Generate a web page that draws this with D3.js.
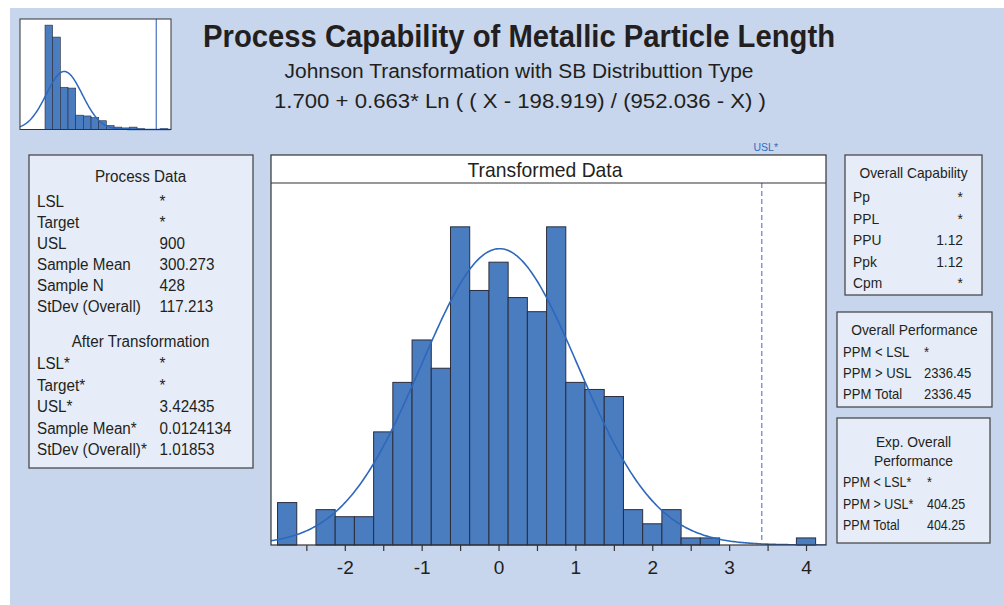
<!DOCTYPE html>
<html>
<head>
<meta charset="utf-8">
<script src="https://cdn.jsdelivr.net/npm/d3@7"></script>
<style>
  html, body { margin: 0; padding: 0; background: #ffffff; }
  svg { display: block; }
  text { font-family: "Liberation Sans", Arial, sans-serif; fill: #231f20; }
</style>
</head>
<body>
<svg id="chart" width="1004" height="605"></svg>
<script>
// ---------- data ----------
const binMids = [-2.75, -2.5, -2.25, -2.0, -1.75, -1.5, -1.25, -1.0, -0.75, -0.5, -0.25, 0.0, 0.25, 0.5, 0.75, 1.0, 1.25, 1.5, 1.75, 2.0, 2.25, 2.5, 2.75, 3.0, 3.25, 3.5, 3.75, 4.0];
const binCounts = [6, 0, 5, 4, 4, 16, 23, 29, 25, 45, 36, 40, 35, 33, 45, 23, 22, 21, 5, 3, 5, 1, 1, 0, 0, 0, 0, 1];
const binWidth = 0.25;
const xTickValues = [-2, -1, 0, 1, 2, 3, 4];
const xMinorTicks = [-2.5, -1.5, -0.5, 0.5, 1.5, 2.5, 3.5];
const usl = 3.42435;
const fitMean = 0.0124134;
const fitSd = 1.01853;
const sampleN = 428;

const origMids = [200, 250, 300, 350, 400, 450, 500, 550, 600, 650, 700, 750, 800, 850, 900, 950];
const origCounts = [131, 116, 53, 52, 18, 17, 15, 11, 5, 3, 2, 3, 1, 0, 0, 1];
const origBinWidth = 50;
const origUsl = 900;
const origMean = 300.273;
const origSd = 117.213;

const titleText = "Process Capability of Metallic Particle Length";
const subtitleText = "Johnson Transformation with SB Distributtion Type";
const formulaText = "1.700 + 0.663* Ln ( ( X - 198.919) / (952.036 - X) )";

const processLabels = ["LSL", "Target", "USL", "Sample Mean", "Sample N", "StDev (Overall)"];
const processValues = ["*", "*", "900", "300.273", "428", "117.213"];
const afterLabels = ["LSL*", "Target*", "USL*", "Sample Mean*", "StDev (Overall)*"];
const afterValues = ["*", "*", "3.42435", "0.0124134", "1.01853"];
const capLabels = ["Pp", "PPL", "PPU", "Ppk", "Cpm"];
const capValues = ["*", "*", "1.12", "1.12", "*"];
const perfLabels = ["PPM < LSL", "PPM > USL", "PPM Total"];
const perfValues = ["*", "2336.45", "2336.45"];
const expLabels = ["PPM < LSL*", "PPM > USL*", "PPM Total"];
const expValues = ["*", "404.25", "404.25"];

// ---------- drawing ----------
const svg = d3.select("#chart");
const barFill = "#4a7cc0";
const barStroke = "#2b2d3c";
const curveColor = "#2d68bd";
const panelFill = "#e6edf8";
const panelStroke = "#4a4a4a";

// compress a text horizontally to mimic the narrow original face
function squeeze(sel, f) {
  sel.each(function () {
    const len = this.getComputedTextLength();
    if (len > 0) d3.select(this).attr("textLength", len * f).attr("lengthAdjust", "spacingAndGlyphs");
  });
  return sel;
}

// background
svg.append("rect").attr("x", 10).attr("y", 8).attr("width", 994).attr("height", 597).attr("fill", "#c7d6ec");

// titles
svg.append("text").attr("x", 519).attr("y", 47).attr("text-anchor", "middle")
  .attr("font-size", 31).attr("font-weight", "bold")
  .attr("textLength", 632).attr("lengthAdjust", "spacingAndGlyphs").text(titleText);
svg.append("text").attr("x", 519).attr("y", 78).attr("text-anchor", "middle")
  .attr("font-size", 20).attr("textLength", 469).attr("lengthAdjust", "spacingAndGlyphs").text(subtitleText);
svg.append("text").attr("x", 520).attr("y", 108).attr("text-anchor", "middle")
  .attr("font-size", 21).attr("textLength", 492).attr("lengthAdjust", "spacingAndGlyphs").text(formulaText);

function normalPdf(x, m, s) {
  return Math.exp(-0.5 * ((x - m) / s) ** 2) / (s * Math.sqrt(2 * Math.PI));
}

// ---------- thumbnail ----------
{
  const L = 20, R = 171, T = 19, B = 129.5;
  const tx = d3.scaleLinear().domain([12, 996]).range([L, R]);
  const ty = d3.scaleLinear().domain([0, 138.7]).range([B, T]);
  const g = svg.append("g");
  g.append("rect").attr("x", L).attr("y", T).attr("width", R - L).attr("height", B - T).attr("fill", "#ffffff");
  const data = origMids.map((m, i) => ({ m, c: origCounts[i] })).filter(d => d.c > 0);
  g.selectAll("rect.tb").data(data).join("rect").attr("class", "tb")
    .attr("x", d => tx(d.m - origBinWidth / 2))
    .attr("width", d => tx(d.m + origBinWidth / 2) - tx(d.m - origBinWidth / 2))
    .attr("y", d => ty(d.c)).attr("height", d => ty(0) - ty(d.c))
    .attr("fill", barFill).attr("stroke", barStroke).attr("stroke-width", 0.6);
  const xs = d3.range(12, 996, 4);
  g.append("path").datum(xs)
    .attr("d", d3.line().x(v => tx(v)).y(v => ty(sampleN * origBinWidth * normalPdf(v, origMean, origSd))))
    .attr("fill", "none").attr("stroke", curveColor).attr("stroke-width", 1.5);
  g.append("line").attr("x1", tx(origUsl)).attr("x2", tx(origUsl)).attr("y1", T).attr("y2", B)
    .attr("stroke", "#4a72c4").attr("stroke-width", 1.2);
  g.append("rect").attr("x", L).attr("y", T).attr("width", R - L).attr("height", B - T)
    .attr("fill", "none").attr("stroke", "#333").attr("stroke-width", 1);
}

// ---------- main histogram ----------
{
  const L = 271, R = 826, T = 155, H = 183, B = 545;
  const x = d3.scaleLinear().domain([-2.96, 4.26]).range([L, R]);
  const y = d3.scaleLinear().domain([0, 51.2]).range([B, H]);
  const g = svg.append("g");
  g.append("rect").attr("x", L).attr("y", T).attr("width", R - L).attr("height", B - T).attr("fill", "#ffffff");

  const data = binMids.map((m, i) => ({ m, c: binCounts[i] })).filter(d => d.c > 0);
  g.selectAll("rect.bar").data(data).join("rect").attr("class", "bar")
    .attr("x", d => x(d.m - binWidth / 2))
    .attr("width", d => x(d.m + binWidth / 2) - x(d.m - binWidth / 2))
    .attr("y", d => y(d.c)).attr("height", d => y(0) - y(d.c))
    .attr("fill", barFill).attr("stroke", barStroke).attr("stroke-width", 1);

  const clipId = "plotclip";
  svg.append("defs").append("clipPath").attr("id", clipId)
    .append("rect").attr("x", L).attr("y", H).attr("width", R - L).attr("height", B - H);
  const xs = d3.range(-2.96, 4.27, 0.02);
  g.append("path").datum(xs).attr("clip-path", `url(#${clipId})`)
    .attr("d", d3.line().x(v => x(v)).y(v => y(sampleN * binWidth * normalPdf(v, fitMean, fitSd))))
    .attr("fill", "none").attr("stroke", curveColor).attr("stroke-width", 1.6);

  g.append("line").attr("x1", x(usl)).attr("x2", x(usl)).attr("y1", H).attr("y2", B)
    .attr("stroke", "#6b8bd0").attr("stroke-width", 1.3).attr("stroke-dasharray", "5,3");
  svg.append("text").attr("x", x(usl) + 4).attr("y", 151).attr("text-anchor", "middle")
    .attr("font-size", 10.5).style("fill", "#2c6fc0").text("USL*");

  // frame and header band
  g.append("rect").attr("x", L).attr("y", T).attr("width", R - L).attr("height", B - T)
    .attr("fill", "none").attr("stroke", "#333").attr("stroke-width", 1.2);
  g.append("line").attr("x1", L).attr("x2", R).attr("y1", H).attr("y2", H).attr("stroke", "#333").attr("stroke-width", 1.2);
  squeeze(g.append("text").attr("x", 545).attr("y", 177).attr("text-anchor", "middle").attr("font-size", 21).text("Transformed Data"), 0.92);

  // axis
  const axis = d3.axisBottom(x).tickValues(xTickValues).tickFormat(d => String(d)).tickSize(6).tickSizeOuter(0);
  const ax = g.append("g").attr("transform", `translate(0,${B})`).call(axis);
  ax.select(".domain").remove();
  ax.selectAll(".tick line").attr("stroke", "#333").attr("stroke-width", 1.2);
  ax.selectAll(".tick text").attr("font-size", 19).attr("dy", "1.05em")
    .style("font-family", "'Liberation Sans', Arial, sans-serif").style("fill", "#231f20");
  const minor = d3.axisBottom(x).tickValues(xMinorTicks).tickFormat("").tickSize(6).tickSizeOuter(0);
  const mx = g.append("g").attr("transform", `translate(0,${B})`).call(minor);
  mx.select(".domain").remove();
  mx.selectAll(".tick line").attr("stroke", "#333").attr("stroke-width", 1.2);
}

// ---------- panels ----------
function panel(x0, y0, w, h) {
  svg.append("rect").attr("x", x0).attr("y", y0).attr("width", w).attr("height", h)
    .attr("fill", panelFill).attr("stroke", panelStroke).attr("stroke-width", 1.3);
}
function label(x0, y0, txt, size, anchor, f) {
  return squeeze(svg.append("text").attr("x", x0).attr("y", y0).attr("font-size", size)
    .attr("text-anchor", anchor).text(txt), f);
}
function rows(labels, values, lx, vx, y0, dy, size, anchor, f) {
  labels.forEach((l, i) => {
    label(lx, y0 + i * dy, l, size, "start", f);
    label(vx, y0 + i * dy, values[i], size, anchor, f);
  });
}

// Process data panel
panel(29, 155, 224, 313);
label(140.5, 182, "Process Data", 16, "middle", 0.95);
rows(processLabels, processValues, 37, 159.5, 206.5, 21, 16, "start", 0.95);
label(140.5, 347, "After Transformation", 16, "middle", 0.95);
rows(afterLabels, afterValues, 37, 159.5, 369, 21.6, 16, "start", 0.95);

// Overall capability
panel(845, 155, 137, 140);
label(913.5, 178, "Overall Capability", 15, "middle", 0.92);
rows(capLabels, capValues, 853, 963, 202, 21.5, 15, "end", 0.92);

// Overall performance
panel(837, 312, 155, 95);
label(914.5, 335, "Overall Performance", 15, "middle", 0.92);
rows(perfLabels, perfValues, 843, 924, 357, 20.8, 14.5, "start", 0.9);

// Exp. overall performance
panel(837, 418, 153, 125);
label(913.5, 447, "Exp. Overall", 15, "middle", 0.92);
label(913.5, 465.5, "Performance", 15, "middle", 0.92);
rows(expLabels, expValues, 843, 927, 487, 21.5, 14.5, "start", 0.86);
</script>
</body>
</html>
